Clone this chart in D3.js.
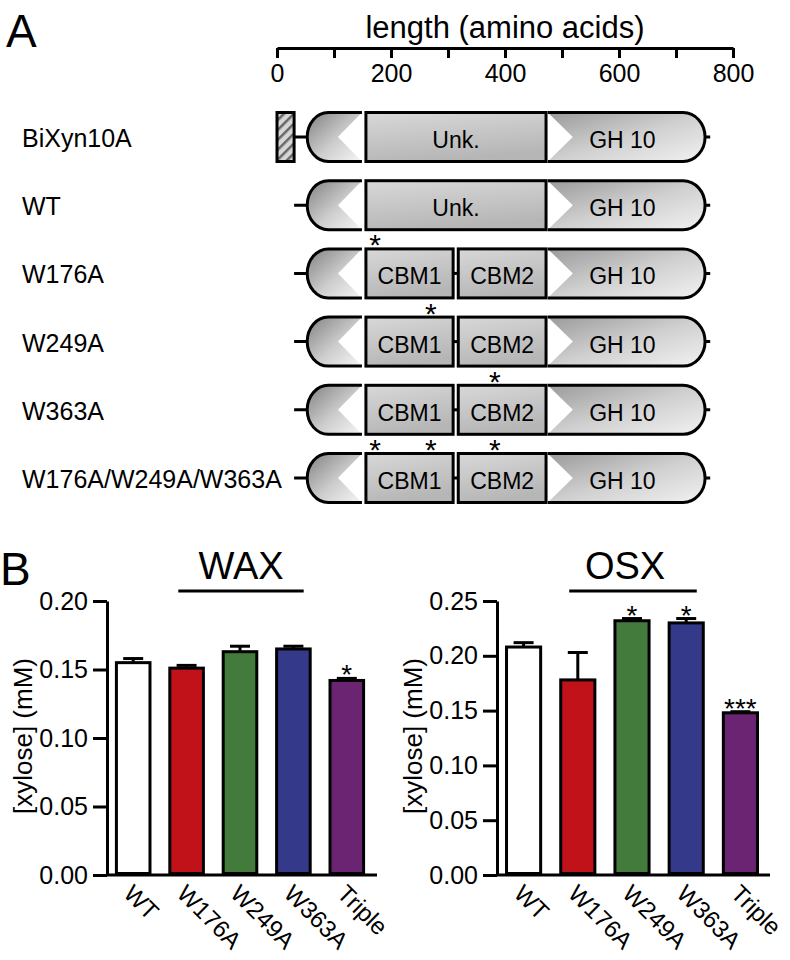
<!DOCTYPE html>
<html>
<head>
<meta charset="utf-8">
<script src="https://cdn.jsdelivr.net/npm/d3@7"></script>
<style>
  html, body { margin: 0; padding: 0; background: #ffffff; }
  svg { display: block; }
  text { font-family: "Liberation Sans", Arial, Helvetica, sans-serif; fill: #000; }
</style>
</head>
<body>
<svg id="fig" width="790" height="960"></svg>
<script>
// ---------------- Panel A data ----------------
const rowNames = ["BiXyn10A", "WT", "W176A", "W249A", "W363A", "W176A/W249A/W363A"];
const signalPeptideRows = ["BiXyn10A"];
const signalPeptide = [0, 30];
const backboneSpan = [30, 760];
const nDomainSpan = [53, 149];
const nDomainNotch = 107;
const unkRows = ["BiXyn10A", "WT"];
const unkDomain = ["Unk.", 156, 472];
const cbmDomains = [["CBM1", 156, 309], ["CBM2", 318, 472]];
const gh10Domain = ["GH 10", 475, 751];
const gh10Notch = 519;
const mutationSites = [[], [], [172], [270], [382], [172, 270, 382]];
const lengthTicks = [0, 100, 200, 300, 400, 500, 600, 700, 800];
const lengthTickLabels = ["0", "", "200", "", "400", "", "600", "", "800"];

// ---------------- Panel B data ----------------
const groups = ["WT", "W176A", "W249A", "W363A", "Triple"];
const barColors = ["#ffffff", "#c1121a", "#437b3d", "#34398a", "#6a2471"];
const waxMeans = [0.155, 0.151, 0.163, 0.165, 0.142];
const waxErrors = [0.003, 0.002, 0.004, 0.002, 0.0015];
const waxStars = ["", "", "", "", "*"];
const waxTicks = [0, 0.05, 0.10, 0.15, 0.20];
const osxMeans = [0.208, 0.178, 0.232, 0.230, 0.148];
const osxErrors = [0.004, 0.025, 0.002, 0.004, 0.001];
const osxStars = ["", "", "*", "*", "***"];
const osxTicks = [0, 0.05, 0.10, 0.15, 0.20, 0.25];

const svg = d3.select("#fig");
const defs = svg.append("defs");

function linGrad(id, x2, y2, stops) {
  const g = defs.append("linearGradient").attr("id", id)
    .attr("x1", 0).attr("y1", 0).attr("x2", x2).attr("y2", y2);
  stops.forEach(s => g.append("stop").attr("offset", s[0]).attr("stop-color", s[1]));
}
linGrad("gradN", 1, 1, [[0, "#808080"], [0.55, "#cdcdcd"], [1, "#f6f6f6"]]);
linGrad("gradGH", 1, 1, [[0, "#9a9a9a"], [0.5, "#cfcfcf"], [1, "#f2f2f2"]]);
linGrad("gradBox", 0.3, 1, [[0, "#d8d8d8"], [1, "#b6b6b6"]]);
const pat = defs.append("pattern").attr("id", "hatch")
  .attr("patternUnits", "userSpaceOnUse").attr("width", 7).attr("height", 7)
  .attr("patternTransform", "rotate(45)");
pat.append("rect").attr("width", 7).attr("height", 7).attr("fill", "#d6d6d6");
pat.append("rect").attr("width", 2.5).attr("height", 7).attr("fill", "#666666");

// ---------------- Panel A ----------------
svg.append("text").attr("x", 6).attr("y", 47).attr("font-size", 46).text("A");

const xA = d3.scaleLinear().domain([0, 800]).range([277, 733]);
const rowY = d3.scalePoint().domain(rowNames).range([137, 478]);
const hh = 24.5;

const topAxis = svg.append("g").attr("transform", "translate(0,48)")
  .call(d3.axisBottom(xA).tickValues(lengthTicks).tickSize(10).tickSizeOuter(0)
    .tickPadding(6).tickFormat((d, i) => lengthTickLabels[i]));
topAxis.select(".domain").attr("stroke", "#000").attr("stroke-width", 3);
topAxis.selectAll(".tick line").attr("stroke", "#000").attr("stroke-width", 3);
topAxis.selectAll(".tick text").attr("font-size", 25).attr("font-family", null);

svg.append("text").attr("x", (xA(0) + xA(800)) / 2).attr("y", 38)
  .attr("text-anchor", "middle").attr("font-size", 31).text("length (amino acids)");

rowNames.forEach((name, i) => {
  const cy = rowY(name);
  const top = cy - hh, bot = cy + hh;
  const g = svg.append("g");
  const rxN = 21, rxG = 22;

  g.append("text").attr("x", 22).attr("y", cy + 10).attr("font-size", 25).text(name);

  // backbone line
  g.append("line").attr("x1", xA(backboneSpan[0])).attr("x2", xA(backboneSpan[1]))
    .attr("y1", cy).attr("y2", cy).attr("stroke", "#000").attr("stroke-width", 3);
  // white underlay hides backbone between N-domain and GH10
  g.append("rect").attr("x", xA(nDomainSpan[0]) + rxN).attr("y", top - 2)
    .attr("width", xA(gh10Domain[2]) - rxG - xA(nDomainSpan[0]) - rxN).attr("height", 2 * hh + 4)
    .attr("fill", "#fff");

  if (signalPeptideRows.includes(name)) {
    g.append("rect").attr("x", xA(signalPeptide[0])).attr("y", top)
      .attr("width", xA(signalPeptide[1]) - xA(signalPeptide[0])).attr("height", 2 * hh)
      .attr("fill", "url(#hatch)").attr("stroke", "#000").attr("stroke-width", 3);
  }

  // N-terminal domain
  {
    const xs = xA(nDomainSpan[0]), xe = xA(nDomainSpan[1]), tip = xA(nDomainNotch), rx = rxN;
    g.append("path").attr("d",
      `M${xs + rx},${top} L${xe},${top} L${tip},${cy} L${xe},${bot} L${xs + rx},${bot} A${rx},${hh} 0 0 1 ${xs + rx},${top} Z`)
      .attr("fill", "url(#gradN)");
    g.append("path").attr("d",
      `M${xe},${top} L${xs + rx},${top} A${rx},${hh} 0 0 0 ${xs + rx},${bot} L${xe},${bot}`)
      .attr("fill", "none").attr("stroke", "#000").attr("stroke-width", 3);
  }

  // middle domains
  const mids = unkRows.includes(name) ? [unkDomain] : cbmDomains;
  for (let k = 1; k < mids.length; k++) {
    g.append("line").attr("x1", xA(mids[k - 1][2])).attr("x2", xA(mids[k][1]))
      .attr("y1", cy).attr("y2", cy).attr("stroke", "#000").attr("stroke-width", 3);
  }
  mids.forEach(d => {
    const x0 = xA(d[1]), x1 = xA(d[2]);
    g.append("rect").attr("x", x0).attr("y", top).attr("width", x1 - x0).attr("height", 2 * hh)
      .attr("fill", "url(#gradBox)").attr("stroke", "#000").attr("stroke-width", 3);
    g.append("text").attr("x", (x0 + x1) / 2).attr("y", cy + 11).attr("text-anchor", "middle")
      .attr("font-size", 23).text(d[0]);
  });

  // GH10 domain
  {
    const xs = xA(gh10Domain[1]), xe = xA(gh10Domain[2]), tip = xA(gh10Notch), rx = rxG;
    g.append("path").attr("d",
      `M${xs},${top} L${xe - rx},${top} A${rx},${hh} 0 0 1 ${xe - rx},${bot} L${xs},${bot} L${tip},${cy} Z`)
      .attr("fill", "url(#gradGH)");
    g.append("path").attr("d",
      `M${xs},${top} L${xe - rx},${top} A${rx},${hh} 0 0 1 ${xe - rx},${bot} L${xs},${bot}`)
      .attr("fill", "none").attr("stroke", "#000").attr("stroke-width", 3);
    g.append("text").attr("x", (xs + xe) / 2 - 4).attr("y", cy + 11).attr("text-anchor", "middle")
      .attr("font-size", 23).text(gh10Domain[0]);
  }

  mutationSites[i].forEach(s => {
    g.append("text").attr("x", xA(s)).attr("y", cy - 18).attr("text-anchor", "middle")
      .attr("font-size", 30).text("*");
  });
});

// ---------------- Panel B ----------------
svg.append("text").attr("x", 0).attr("y", 585).attr("font-size", 46).text("B");

function barChart(cfg) {
  const g = svg.append("g");
  const y = d3.scaleLinear().domain([0, cfg.max]).range([875, 601]);
  const x = d3.scaleBand().domain(groups).range([cfg.x0, cfg.x0 + cfg.w])
    .paddingInner(0.315).paddingOuter(0.148);

  const ya = g.append("g").attr("transform", `translate(${cfg.x0},0)`)
    .call(d3.axisLeft(y).tickValues(cfg.ticks).tickSize(14).tickSizeOuter(0).tickPadding(5)
      .tickFormat(d3.format(".2f")));
  ya.select(".domain").attr("stroke", "#000").attr("stroke-width", 3);
  ya.selectAll(".tick line").attr("stroke", "#000").attr("stroke-width", 3);
  ya.selectAll(".tick text").attr("font-size", 25).attr("font-family", null);

  const xa = g.append("g").attr("transform", "translate(0,875)")
    .call(d3.axisBottom(x).tickSize(0).tickSizeOuter(0));
  xa.select(".domain").attr("d", `M${cfg.x0},0H${cfg.x0 + cfg.w + cfg.extra}`)
    .attr("stroke", "#000").attr("stroke-width", 3);
  xa.selectAll(".tick text").attr("font-size", 24).attr("font-family", null)
    .attr("text-anchor", "start").attr("x", 0).attr("y", 0).attr("dy", null)
    .attr("transform", "translate(-11,20) rotate(45)");

  groups.forEach((gname, i) => {
    const cx = x(gname) + x.bandwidth() / 2;
    const yTop = y(cfg.means[i] + cfg.errs[i]);
    g.append("line").attr("x1", cx).attr("x2", cx).attr("y1", y(cfg.means[i])).attr("y2", yTop)
      .attr("stroke", "#000").attr("stroke-width", 3);
    g.append("line").attr("x1", cx - 10).attr("x2", cx + 10).attr("y1", yTop).attr("y2", yTop)
      .attr("stroke", "#000").attr("stroke-width", 3);
    if (cfg.stars[i]) {
      g.append("text").attr("x", cx).attr("y", yTop + 6).attr("text-anchor", "middle")
        .attr("font-size", 28).text(cfg.stars[i]);
    }
  });

  g.selectAll("rect.bar").data(groups).join("rect").attr("class", "bar")
    .attr("x", d => x(d) + 1.5).attr("width", x.bandwidth() - 3)
    .attr("y", (d, i) => y(cfg.means[i]))
    .attr("height", (d, i) => 875 - 1.5 - y(cfg.means[i]))
    .attr("fill", (d, i) => barColors[i]).attr("stroke", "#000").attr("stroke-width", 3);

  const u0 = x("W176A") + 10, u1 = x("W363A") + x.bandwidth() - 8;
  g.append("line").attr("x1", u0).attr("x2", u1).attr("y1", 591).attr("y2", 591)
    .attr("stroke", "#000").attr("stroke-width", 3);
  g.append("text").attr("x", (u0 + u1) / 2 + cfg.titleShift).attr("y", 579).attr("text-anchor", "middle")
    .attr("font-size", 38).text(cfg.title);

  g.append("text").attr("transform", `translate(${cfg.labelX},736) rotate(-90)`)
    .attr("text-anchor", "middle").attr("font-size", 26).text("[xylose] (mM)");
}

barChart({ title: "WAX", x0: 107, w: 266, extra: 4, max: 0.20, ticks: waxTicks,
  means: waxMeans, errs: waxErrors, stars: waxStars, labelX: 32, titleShift: 0 });
barChart({ title: "OSX", x0: 497, w: 270, extra: 3, max: 0.25, ticks: osxTicks,
  means: osxMeans, errs: osxErrors, stars: osxStars, labelX: 422, titleShift: -8 });
</script>
</body>
</html>
